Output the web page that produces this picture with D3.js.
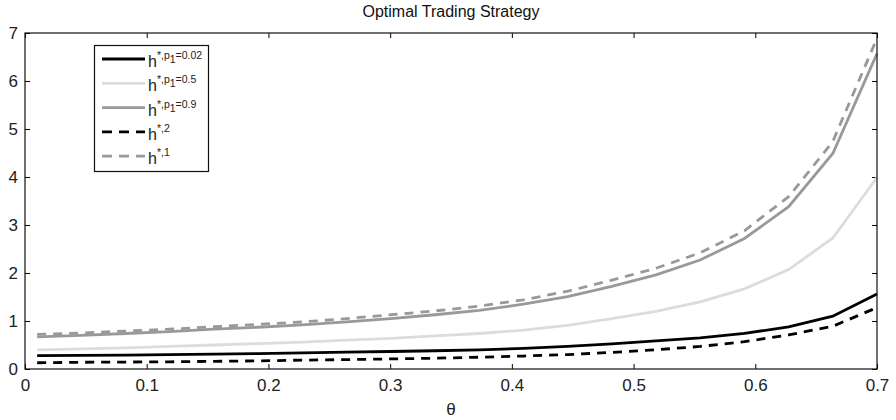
<!DOCTYPE html>
<html>
<head>
<meta charset="utf-8">
<script src="https://cdn.jsdelivr.net/npm/d3@7"></script>
<style>
  body { margin: 0; background: #fff; }
  svg { display: block; }
  svg text { font-family: "Liberation Sans", Arial, sans-serif; }
</style>
</head>
<body>
<div id="chart"></div>
<script>
// theta grid (20 points from 0.01 to 0.7)
const theta = [0.01, 0.0463, 0.0826, 0.1189, 0.1553, 0.1916, 0.2279, 0.2642, 0.3005, 0.3368,
               0.3732, 0.4095, 0.4458, 0.4821, 0.5184, 0.5547, 0.5911, 0.6274, 0.6637, 0.7];

// values
const hP002 = [0.28, 0.285, 0.29, 0.30, 0.31, 0.32, 0.335, 0.35, 0.365, 0.38,
               0.40, 0.43, 0.47, 0.525, 0.585, 0.65, 0.74, 0.88, 1.10, 1.56];
const hP05  = [0.40, 0.42, 0.44, 0.47, 0.50, 0.53, 0.56, 0.60, 0.64, 0.69,
               0.74, 0.81, 0.91, 1.05, 1.20, 1.40, 1.67, 2.07, 2.73, 3.99];
const hP09  = [0.67, 0.70, 0.74, 0.78, 0.83, 0.87, 0.92, 0.98, 1.05, 1.13,
               1.22, 1.35, 1.51, 1.72, 1.96, 2.27, 2.72, 3.38, 4.49, 6.57];
const hStar2 = [0.13, 0.14, 0.145, 0.15, 0.16, 0.17, 0.185, 0.195, 0.21, 0.225,
                0.245, 0.27, 0.30, 0.345, 0.40, 0.47, 0.57, 0.71, 0.89, 1.28];
const hStar1 = [0.72, 0.75, 0.79, 0.83, 0.88, 0.93, 0.98, 1.05, 1.13, 1.21,
                1.31, 1.44, 1.62, 1.85, 2.10, 2.42, 2.88, 3.59, 4.74, 6.89];

const xTicks = [0, 0.1, 0.2, 0.3, 0.4, 0.5, 0.6, 0.7];
const yTicks = [0, 1, 2, 3, 4, 5, 6, 7];

const series = [
  { values: hP002,  color: '#000000', dash: null,   sup: '*,p', sub: '1', tail: '=0.02' },
  { values: hP05,   color: '#dcdcdc', dash: null,   sup: '*,p', sub: '1', tail: '=0.5' },
  { values: hP09,   color: '#999999', dash: null,   sup: '*,p', sub: '1', tail: '=0.9' },
  { values: hStar2, color: '#000000', dash: '9,7',  sup: '*,2', sub: null, tail: '' },
  { values: hStar1, color: '#999999', dash: '9,7',  sup: '*,1', sub: null, tail: '' }
];

const width = 896, height = 420;
const margin = { top: 33, right: 19, bottom: 51, left: 25 };

const svg = d3.select('#chart').append('svg')
  .attr('width', width)
  .attr('height', height);

const x = d3.scaleLinear().domain([0, 0.7]).range([margin.left, width - margin.right]);
const y = d3.scaleLinear().domain([0, 7]).range([height - margin.bottom, margin.top]);

// title
svg.append('text')
  .attr('x', (x(0) + x(0.7)) / 2)
  .attr('y', 17)
  .attr('text-anchor', 'middle')
  .attr('fill', '#111')
  .style('font-size', '16px')
  .text('Optimal Trading Strategy');

// ticks inside the box on all four sides (matlab style)
const tickLen = 5;
svg.append('g')
  .attr('transform', `translate(0,${y(0)})`)
  .call(d3.axisBottom(x).tickValues(xTicks).tickSizeInner(-tickLen).tickSizeOuter(0)
    .tickPadding(10).tickFormat(d => d === 0 ? '0' : d3.format('.1f')(d)))
  .call(g => g.select('.domain').remove())
  .call(g => g.selectAll('text').style('font-size', '17px').attr('fill', '#222'));

svg.append('g')
  .attr('transform', `translate(0,${y(7)})`)
  .call(d3.axisTop(x).tickValues(xTicks).tickSizeInner(-tickLen).tickSizeOuter(0).tickFormat(''))
  .call(g => g.select('.domain').remove());

svg.append('g')
  .attr('transform', `translate(${x(0)},0)`)
  .call(d3.axisLeft(y).tickValues(yTicks).tickSizeInner(-tickLen).tickSizeOuter(0)
    .tickPadding(7).tickFormat(d3.format('d')))
  .call(g => g.select('.domain').remove())
  .call(g => g.selectAll('text').style('font-size', '17px').attr('fill', '#222'));

svg.append('g')
  .attr('transform', `translate(${x(0.7)},0)`)
  .call(d3.axisRight(y).tickValues(yTicks).tickSizeInner(-tickLen).tickSizeOuter(0).tickFormat(''))
  .call(g => g.select('.domain').remove());

// x label
svg.append('text')
  .attr('x', (x(0) + x(0.7)) / 2)
  .attr('y', 415)
  .attr('text-anchor', 'middle')
  .style('font-size', '17px')
  .attr('fill', '#222')
  .text('θ');

// lines
const line = d3.line()
  .x((d, i) => x(theta[i]))
  .y(d => y(d));

svg.append('g')
  .selectAll('path')
  .data(series)
  .join('path')
  .attr('d', d => line(d.values))
  .attr('fill', 'none')
  .attr('stroke', d => d.color)
  .attr('stroke-width', 2.8)
  .attr('stroke-dasharray', d => d.dash);

// axes box
svg.append('rect')
  .attr('x', x(0))
  .attr('y', y(7))
  .attr('width', x(0.7) - x(0))
  .attr('height', y(0) - y(7))
  .attr('fill', 'none')
  .attr('stroke', '#111')
  .attr('stroke-width', 1.2);

// legend
const legend = svg.append('g');
legend.append('rect')
  .attr('x', 94.5).attr('y', 45.5)
  .attr('width', 114).attr('height', 126)
  .attr('fill', '#fff')
  .attr('stroke', '#111')
  .attr('stroke-width', 1.2);

const rows = legend.selectAll('.legend-item')
  .data(series)
  .join('g')
  .attr('class', 'legend-item')
  .attr('transform', (d, i) => `translate(0,${59 + i * 24.3})`);

rows.append('line')
  .attr('x1', 102).attr('x2', 145)
  .attr('stroke', d => d.color)
  .attr('stroke-width', 2.8)
  .attr('stroke-dasharray', d => d.dash ? '10,7' : null);

const lbl = rows.append('text')
  .attr('x', 148)
  .attr('y', 8)
  .attr('fill', '#222')
  .style('font-size', '16px');

lbl.append('tspan').text('h');
lbl.append('tspan').attr('dy', -8).style('font-size', '10.5px').text(d => d.sup);
lbl.filter(d => d.sub).append('tspan').attr('dy', 4).style('font-size', '10.5px').text(d => d.sub);
lbl.filter(d => d.sub).append('tspan').attr('dy', -4).style('font-size', '10.5px').text(d => d.tail);
</script>
</body>
</html>
